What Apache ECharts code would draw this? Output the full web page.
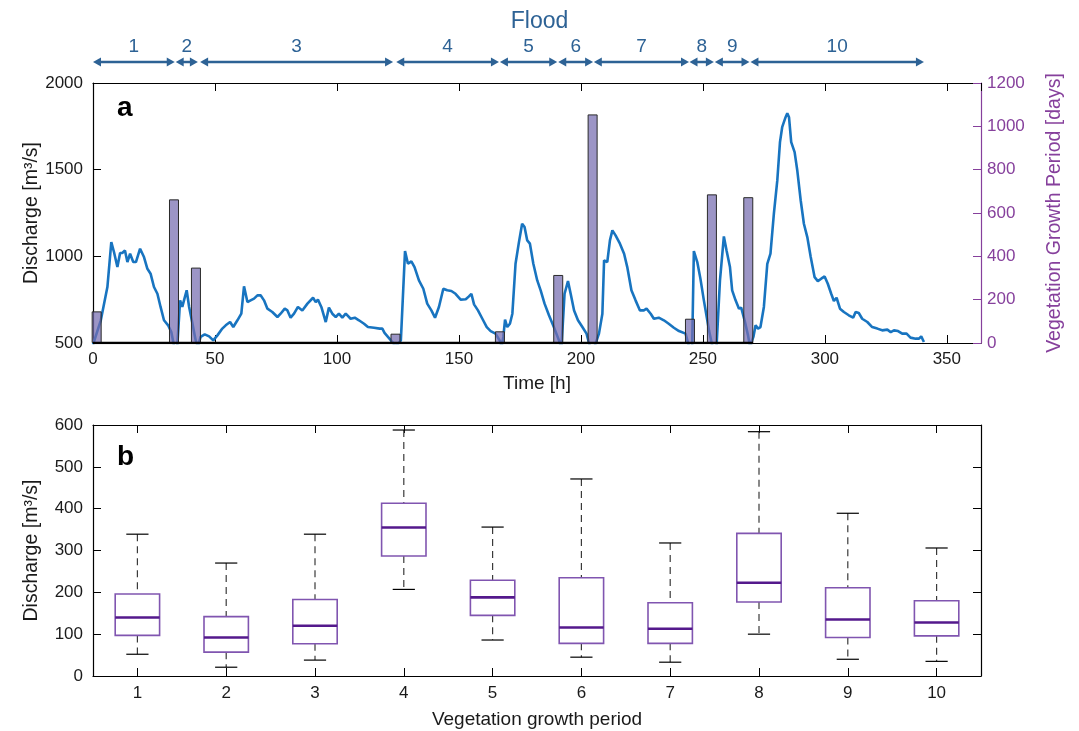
<!DOCTYPE html>
<html>
<head>
<meta charset="utf-8">
<script src="https://cdn.jsdelivr.net/npm/echarts@6/dist/echarts.min.js"></script>
<style>
html,body{margin:0;padding:0;background:#fff;}
#c{width:1079px;height:731px;}
</style>
</head>
<body>
<div id="c"></div>
<script>
// ---- Panel a: discharge time series ----
const timeH = [0,3.2,5.9,7.5,8.6,10,11.1,12,13.1,14.1,15.2,16.5,17.6,19.3,20.9,22.3,23.6,25,26.4,27.7,29.1,30.8,32.1,33.4,34.5,35.7,36.6,37.3,38.4,39.4,40.5,42.1,43,44.1,45.8,47.6,49.3,51,53,54.4,56.2,57.5,59.2,60.8,61.9,63.3,64.6,66,67.4,68.7,70.1,71.5,73.5,75.6,76.9,78.6,79.7,81,82.4,84,85.8,87.9,90.2,91.3,92.2,93.6,95.4,96.7,98.1,99.5,100.8,102.2,103.6,105.6,107.3,109,111.1,112.7,115.2,117.5,118.6,119.5,120.9,122.3,124.1,126.2,127.9,129.1,130.5,131.8,133.6,135.4,137,138.7,140.2,141.8,143.6,145.2,146.9,148.6,150.7,152.8,154.1,155.1,156.2,157.8,159.6,161.4,163,165,166.8,167.5,168.2,168.9,169.8,170.9,171.9,173.2,174.6,175.9,176.9,178,179.1,180.5,182.1,183.5,185.1,186.9,188.9,191,192,193.3,194.7,195.8,197.2,198.8,200.6,202.3,203.7,205.6,207.4,208.8,209.5,210.8,211.9,212.9,214.2,216,217.7,219,220.7,222.4,224.2,225.8,226.9,228.6,229.9,231.9,234,236,238.1,240.2,242.9,244.3,245.6,246.3,247.7,249,250.4,251.8,252.5,253.9,255.6,257,258.6,259.7,261.1,262,263.4,264.8,265.7,267.1,268.5,269.3,270.7,271.6,272.6,273.6,275,276.4,277.7,279.1,280.5,281.6,282.5,283.9,284.6,285.3,286.2,287.6,288.7,290.1,291.4,292.8,294.2,295.8,297.1,298.5,299.9,301.2,302.6,303.7,304.8,306.2,307.8,309.8,311.6,312.6,313.9,315.3,317.4,319.4,321.5,323.5,325.6,327,328.3,330,331.7,333.5,335.1,337.2,338.6,339.5,340.6];
const dischargeQ = [490,631,823,1082,1025,938,1019,1019,1034,967,1015,967,967,1044,996,928,900,823,784,708,631,602,563,470,470,746,708,746,804,708,631,515,480,535,550,538,515,544,583,602,621,592,631,669,827,736,746,756,775,775,746,698,679,650,669,698,688,646,669,708,688,727,761,736,750,708,621,704,669,650,669,646,669,640,646,631,611,592,588,583,583,558,535,512,480,515,1030,957,971,938,861,813,727,688,646,708,813,804,800,784,750,752,769,784,723,688,640,592,569,554,512,480,535,635,592,611,669,957,1082,1188,1169,1092,1073,957,861,804,727,660,592,515,470,784,857,784,688,631,592,554,480,480,554,669,977,967,1092,1150,1121,1073,1015,938,804,746,688,688,698,669,640,646,631,611,588,569,554,480,480,1030,967,870,746,631,573,480,480,861,1115,1034,938,804,746,698,704,631,544,480,535,602,583,592,708,957,1015,1246,1438,1659,1745,1803,1826,1803,1659,1601,1495,1322,1188,1111,996,880,857,871,884,842,784,742,761,698,679,660,646,679,673,640,621,592,583,573,577,563,573,569,554,554,531,525,525,538,506];

// Vegetation growth period bars (days)
const barTime = [1.5,33.2,42.2,124,166.8,190.7,204.8,244.7,253.7,268.6];
const barDays = [146,663,348,43,54,314,1055,112,686,673];

// Flood periods (arrows)
const floodLabels = ['1','2','3','4','5','6','7','8','9','10'];
const floodStart = [0,33.9,43.9,124.3,166.8,190.7,205.3,244.5,254.9,269.5];
const floodEnd   = [33.5,43,123,166.4,190.3,205,244.3,254.5,269.1,340.6];

// ---- Panel b: boxplot per vegetation growth period ----
const boxCats = ['1','2','3','4','5','6','7','8','9','10'];
const boxLow  = [52,21,38,207,86,45,33,100,40,35];
const boxQ1   = [97,57,77,287,145,78,78,177,92,96];
const boxMed  = [140,92,120,355,188,116,113,223,135,128];
const boxQ3   = [196,142,183,413,229,235,175,341,211,180];
const boxHigh = [339,270,339,588,356,471,318,584,389,306];

const FONT = '"Liberation Sans", Arial, Helvetica, sans-serif';
const BLUE = '#2d6295';
const PURPLE = '#86409c';
const TXT = '#1a1a1a';
const plain = v => String(v);

const chart = echarts.init(document.getElementById('c'));

const tickIn = {show:true, inside:true, length:8, lineStyle:{color:'#000', width:1}};
const blackLine = {show:true, onZero:false, lineStyle:{color:'#000', width:1.2}};

const option = {
  animation:false,
  backgroundColor:'#fff',
  textStyle:{fontFamily:FONT},
  title:[
    {text:'Flood', left:'center', top:5, textStyle:{fontFamily:FONT, fontSize:23, fontWeight:'normal', color:BLUE}},
    {text:'a', left:112, top:89, textStyle:{fontFamily:FONT, fontSize:28, fontWeight:'bold', color:'#000'}},
    {text:'b', left:112, top:438, textStyle:{fontFamily:FONT, fontSize:28, fontWeight:'bold', color:'#000'}}
  ],
  grid:[
    {left:93, right:98, top:83, height:260},
    {left:93, right:98, top:425, height:251},
    {left:93, right:98, top:42, height:40}
  ],
  xAxis:[
    {type:'value', gridIndex:0, min:0, max:364, interval:50, position:'bottom',
     axisLine:blackLine, axisTick:tickIn, splitLine:{show:false},
     axisLabel:{fontSize:17, color:TXT, margin:8, fontFamily:FONT, showMaxLabel:false, formatter:plain},
     name:'Time [h]', nameLocation:'middle', nameGap:31, nameMoveOverlap:false,
     nameTextStyle:{fontSize:19, color:TXT, fontFamily:FONT}},
    {type:'value', gridIndex:0, min:0, max:364, interval:50, position:'top',
     axisLine:blackLine, axisTick:tickIn, splitLine:{show:false}, axisLabel:{show:false}},
    {type:'category', gridIndex:1, data:boxCats, position:'bottom', boundaryGap:true,
     axisLine:blackLine, axisTick:Object.assign({alignWithLabel:true}, tickIn), splitLine:{show:false},
     axisLabel:{fontSize:17, color:TXT, margin:9, fontFamily:FONT},
     name:'Vegetation growth period', nameLocation:'middle', nameGap:34, nameMoveOverlap:false,
     nameTextStyle:{fontSize:19, color:TXT, fontFamily:FONT}},
    {type:'category', gridIndex:1, data:boxCats, position:'top', boundaryGap:true,
     axisLine:blackLine, axisTick:Object.assign({alignWithLabel:true}, tickIn), splitLine:{show:false}, axisLabel:{show:false}},
    {type:'value', gridIndex:2, min:0, max:364, show:false}
  ],
  yAxis:[
    {type:'value', gridIndex:0, min:500, max:2000, interval:500, position:'left',
     axisLine:blackLine, axisTick:tickIn, splitLine:{show:false},
     axisLabel:{fontSize:17, color:TXT, margin:10, fontFamily:FONT, formatter:plain},
     name:'Discharge [m³/s]', nameLocation:'middle', nameGap:51, nameRotate:90, nameMoveOverlap:false,
     nameTextStyle:{fontSize:19.5, color:TXT, fontFamily:FONT}},
    {type:'value', gridIndex:0, min:0, max:1200, interval:200, position:'right',
     axisLine:{show:true, onZero:false, lineStyle:{color:PURPLE, width:1.2}},
     axisTick:{show:true, inside:true, length:8, lineStyle:{color:PURPLE, width:1}},
     splitLine:{show:false},
     axisLabel:{fontSize:17, color:PURPLE, margin:6, fontFamily:FONT, formatter:plain},
     name:'Vegetation Growth Period [days]', nameLocation:'middle', nameGap:64, nameRotate:90, nameMoveOverlap:false,
     nameTextStyle:{fontSize:19.5, color:PURPLE, fontFamily:FONT}},
    {type:'value', gridIndex:1, min:0, max:600, interval:100, position:'left',
     axisLine:blackLine, axisTick:tickIn, splitLine:{show:false},
     axisLabel:{fontSize:17, color:TXT, margin:10, fontFamily:FONT, formatter:plain},
     name:'Discharge [m³/s]', nameLocation:'middle', nameGap:51, nameRotate:90, nameMoveOverlap:false,
     nameTextStyle:{fontSize:19.5, color:TXT, fontFamily:FONT}},
    {type:'value', gridIndex:1, min:0, max:600, interval:100, position:'right',
     axisLine:blackLine, axisTick:tickIn, splitLine:{show:false}, axisLabel:{show:false}},
    {type:'value', gridIndex:2, min:0, max:1, show:false}
  ],
  series:[
    {type:'line', xAxisIndex:0, yAxisIndex:0, data:timeH.map((t,i)=>[t, dischargeQ[i]]),
     showSymbol:false, symbol:'none', clip:true, z:2,
     lineStyle:{color:'#1874c0', width:2.6}},
    {type:'line', xAxisIndex:0, yAxisIndex:1, data:[[0,0],[barTime[barTime.length-1]+2,0]],
     showSymbol:false, symbol:'none', z:4, lineStyle:{color:'#000', width:2.4}},
    {type:'bar', xAxisIndex:0, yAxisIndex:1, data:barTime.map((t,i)=>[t, barDays[i]]),
     barWidth:10, clip:true, z:3,
     itemStyle:{color:'rgba(118,108,176,0.72)', borderColor:'#2a2a2a', borderWidth:1}},
    {type:'custom', xAxisIndex:4, yAxisIndex:4, clip:false,
     data:floodStart.map((s,i)=>[s, floodEnd[i], i]),
     encode:{x:[0,1]},
     renderItem:function(params, api){
       const s = api.value(0), e = api.value(1), k = api.value(2);
       const p1 = api.coord([s, 0.5]), p2 = api.coord([e, 0.5]);
       const y = p1[1], hl = 8, hw = 4.5;
       return {type:'group', children:[
         {type:'line', shape:{x1:p1[0]+hl-1, y1:y, x2:p2[0]-hl+1, y2:y}, style:{stroke:BLUE, lineWidth:2.5}},
         {type:'polygon', shape:{points:[[p1[0],y],[p1[0]+hl,y-hw],[p1[0]+hl,y+hw]]}, style:{fill:BLUE}},
         {type:'polygon', shape:{points:[[p2[0],y],[p2[0]-hl,y-hw],[p2[0]-hl,y+hw]]}, style:{fill:BLUE}},
         {type:'text', x:(p1[0]+p2[0])/2, y:y-15, style:{text:floodLabels[k], fill:BLUE, font:'19px '+FONT, align:'center', verticalAlign:'middle'}}
       ]};
     }},
    {type:'custom', xAxisIndex:2, yAxisIndex:2, clip:false,
     data:boxCats.map((c,i)=>[i, boxLow[i], boxQ1[i], boxMed[i], boxQ3[i], boxHigh[i]]),
     encode:{x:0, y:[1,2,3,4,5]},
     renderItem:function(params, api){
       const idx = api.value(0);
       const pL = api.coord([idx, api.value(1)]);
       const p1 = api.coord([idx, api.value(2)]);
       const pM = api.coord([idx, api.value(3)]);
       const p3 = api.coord([idx, api.value(4)]);
       const pH = api.coord([idx, api.value(5)]);
       const band = api.size([1,0])[0];
       const bw = band*0.5, cw = band*0.25, cx = pM[0];
       const dash = {stroke:'#3a3a3a', lineWidth:1.2, lineDash:[7,5]};
       const cap = {stroke:'#000', lineWidth:1.2};
       return {type:'group', children:[
         {type:'line', shape:{x1:cx, y1:pH[1], x2:cx, y2:p3[1]}, style:dash},
         {type:'line', shape:{x1:cx, y1:p1[1], x2:cx, y2:pL[1]}, style:dash},
         {type:'line', shape:{x1:cx-cw/2, y1:pH[1], x2:cx+cw/2, y2:pH[1]}, style:cap},
         {type:'line', shape:{x1:cx-cw/2, y1:pL[1], x2:cx+cw/2, y2:pL[1]}, style:cap},
         {type:'rect', shape:{x:cx-bw/2, y:p3[1], width:bw, height:p1[1]-p3[1]}, style:{fill:'none', stroke:'#8055b0', lineWidth:1.6}},
         {type:'line', shape:{x1:cx-bw/2, y1:pM[1], x2:cx+bw/2, y2:pM[1]}, style:{stroke:'#54198c', lineWidth:2.6}}
       ]};
     }}
  ]
};
chart.setOption(option);
</script>
</body>
</html>
